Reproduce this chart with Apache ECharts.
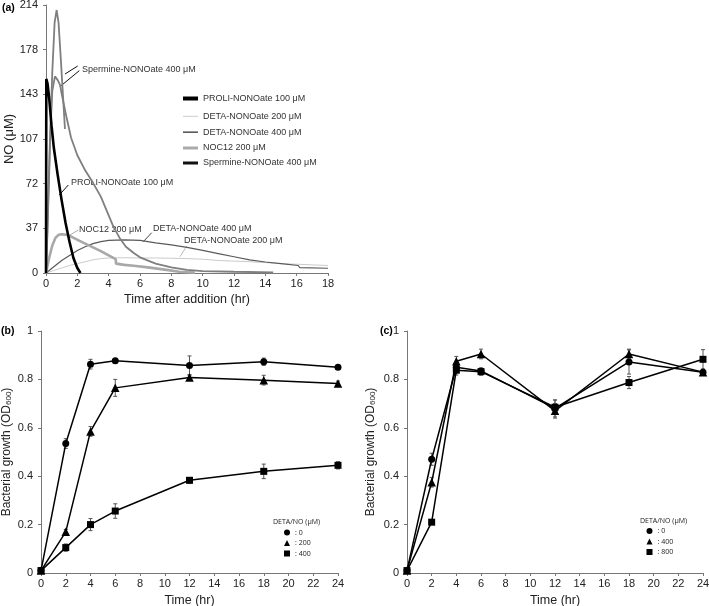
<!DOCTYPE html>
<html><head><meta charset="utf-8">
<script src="https://cdn.jsdelivr.net/npm/echarts@6/dist/echarts.min.js"></script>
<style>html,body{margin:0;padding:0;background:#fff}#c{width:709px;height:606px}</style>
</head><body><div id="c"></div>
<script>
// ---------- Panel (a): NO release curves [time hr, NO uM] ----------
const aYTickLabels = ['0','37','72','107','143','178','214'];
const prol = [[0,0],[0.02,155],[0.1,151],[0.2,140],[0.35,118],[0.5,100],[0.75,78],[1.0,58],[1.25,40],[1.5,25],[1.75,12],[2.0,4],[2.2,0]];
const spermTall = [[0,0],[0.1,35],[0.25,100],[0.4,160],[0.55,200],[0.68,210],[0.8,200],[0.95,170],[1.1,138],[1.21,115]];
const spermLong = [[0,0],[0.1,40],[0.25,105],[0.4,145],[0.57,157],[0.75,154],[0.9,150],[1.0,143],[1.3,125],[1.6,108],[2.0,94],[2.5,82],[3.0,72],[3.5,61],[4.0,46],[4.3,37],[4.7,28],[5.1,21],[5.6,16],[6.0,12.5],[7.0,7.5],[8.0,4.5],[9.0,2.5],[10,1.5],[12,1],[14.5,0.5]];
const noc12 = [[0,0],[0.2,12],[0.4,22],[0.6,28],[0.8,30.5],[1.0,31],[1.3,30.5],[1.7,28.5],[2.4,24],[3.0,20.5],[3.5,17.5],[4.0,14],[4.45,11],[4.47,7.5],[5.0,6.5],[5.6,5.8],[6.5,4.5],[7.7,2.5],[8.5,1],[9.5,0.3]];
const deta400 = [[0,0],[0.5,5],[1.0,10],[1.5,14],[2.0,18],[2.5,21],[3.0,23.5],[3.5,25],[4.0,26],[5.0,26.5],[6.0,26],[7.0,24],[8.0,22.5],[9.0,20.5],[10.0,18],[11.0,15.5],[12.0,13],[13.0,10.5],[14.0,8.8],[15.0,7.5],[16.1,6],[16.2,4.3],[18,3.8]];
const deta200 = [[0,0],[0.5,2],[1.0,4],[1.5,6],[2.0,7.5],[2.5,9],[3.0,10.5],[3.5,11.5],[4.0,12],[5.0,12.2],[6.0,12],[7.0,12],[8.0,11.8],[9.0,11.5],[10,11],[11,10],[12,9.5],[13,9],[14,8.3],[15,7.5],[16,7],[17,6.5],[18,6]];

// ---------- Panels (b) and (c): growth OD600 ----------
const times = [0,2,4,6,12,18,24];
const b0 = [0.01,0.535,0.863,0.877,0.857,0.873,0.85];
const b0Err = [0.005,0.02,0.02,0.008,0.04,0.015,0.008];
const b200 = [0.01,0.17,0.585,0.765,0.808,0.797,0.783];
const b200Err = [0.005,0.01,0.02,0.035,0.012,0.02,0.01];
const b400 = [0.01,0.105,0.2,0.256,0.383,0.42,0.445];
const b400Err = [0.005,0.015,0.025,0.03,0.012,0.03,0.015];
const c0 = [0.01,0.47,0.85,0.835,0.68,0.872,0.83];
const c0Err = [0.005,0.025,0.02,0.01,0.035,0.05,0.01];
const c400 = [0.01,0.375,0.875,0.905,0.67,0.905,0.83];
const c400Err = [0.005,0.02,0.02,0.02,0.03,0.02,0.01];
const c800 = [0.01,0.21,0.838,0.832,0.685,0.787,0.883];
const c800Err = [0.005,0.01,0.02,0.015,0.03,0.025,0.04];

const FONT = 'Liberation Sans, Arial, sans-serif';
const chart = echarts.init(document.getElementById('c'));

function lineA(name, data, color, width, z) {
  return {type:'line', name, xAxisIndex:0, yAxisIndex:0, data, symbol:'none', showSymbol:false,
    lineStyle:{color, width}, itemStyle:{color}, z, silent:true};
}
function growth(name, xi, vals, symbol, size) {
  return {type:'line', name, xAxisIndex:xi, yAxisIndex:xi, data: times.map((t,i)=>[t, vals[i]]),
    symbol, symbolSize:size, lineStyle:{color:'#000', width:1.5}, itemStyle:{color:'#000'}, z:3, silent:true};
}
function errBars(name, xi, vals, errs) {
  return {type:'custom', name, xAxisIndex:xi, yAxisIndex:xi, z:2, silent:true,
    data: times.map((t,i)=>[t, vals[i], errs[i]]), encode:{x:0, y:1},
    renderItem:(params, api) => {
      const x = api.value(0), v = api.value(1), e = api.value(2);
      const lo = api.coord([x, v - e]), hi = api.coord([x, v + e]);
      const w = 2, st = {stroke:'#555', lineWidth:1};
      return {type:'group', children:[
        {type:'line', shape:{x1:lo[0], y1:lo[1], x2:hi[0], y2:hi[1]}, style:st},
        {type:'line', shape:{x1:hi[0]-w, y1:hi[1], x2:hi[0]+w, y2:hi[1]}, style:st},
        {type:'line', shape:{x1:lo[0]-w, y1:lo[1], x2:lo[0]+w, y2:lo[1]}, style:st}
      ]};
    }};
}

const axisCommon = {
  axisLine:{show:true, onZero:false, lineStyle:{color:'#777', width:1}},
  axisTick:{show:true, length:3, lineStyle:{color:'#777'}},
  splitLine:{show:false}
};
const growthName = 'Bacterial growth (OD{s|600})';
const growthNameStyle = {fontSize:12, color:'#222', fontFamily:FONT,
  rich:{s:{fontSize:8, fontFamily:FONT, color:'#222', verticalAlign:'bottom'}}};

function legendA(name, top, h, color) {
  return {data:[{name, itemStyle:{color}}], left:183, top: top - h/2, padding:0, icon:'rect',
    itemWidth:15, itemHeight:h, selectedMode:false,
    textStyle:{fontSize:9, color:'#333', fontFamily:FONT}};
}
function legendBC(names, left, top) {
  return {orient:'vertical', left, top, padding:0, itemWidth:6, itemHeight:6, itemGap:3.5, selectedMode:false,
    data:[{name:names[0], icon:'circle'},{name:names[1], icon:'triangle'},{name:names[2], icon:'rect'}],
    formatter: n => ': ' + n.slice(1),
    textStyle:{fontSize:7, color:'#222', fontFamily:'Open Sans, sans-serif'}};
}

const annot = [
  {t:'Spermine-NONOate 400 μM', x:82, y:70},
  {t:'PROLI-NONOate 100 μM', x:71, y:183},
  {t:'NOC12 200 μM', x:79, y:230},
  {t:'DETA-NONOate 400 μM', x:153, y:229},
  {t:'DETA-NONOate 200 μM', x:184, y:241}
];
const leaders = [
  {p:[77.7,66,65,74], c:'#111'},
  {p:[79.3,70.7,60.7,86], c:'#111'},
  {p:[68.3,185,59.3,195], c:'#111'},
  {p:[78.3,230,70,235], c:'#aaa'},
  {p:[151.7,232.7,143.3,241.7], c:'#444'},
  {p:[186.7,246,180,256.7], c:'#bbb'}
];
const panelTitle = {fontSize:10.5, fontWeight:'bold', color:'#000', fontFamily:FONT};

const option = {
  animation:false,
  backgroundColor:'#fff',
  textStyle:{fontFamily:FONT},
  title:[
    {text:'(a)', left:2, top:3, padding:0, textStyle:panelTitle},
    {text:'(b)', left:1, top:326, padding:0, textStyle:panelTitle},
    {text:'(c)', left:380, top:326, padding:0, textStyle:panelTitle},
    {text:'DETA/NO (μM)', left:273, top:518, padding:0, textStyle:{fontSize:7, fontWeight:'normal', color:'#222', fontFamily:'Open Sans, sans-serif'}},
    {text:'DETA/NO (μM)', left:640, top:517.5, padding:0, textStyle:{fontSize:7, fontWeight:'normal', color:'#222', fontFamily:'Open Sans, sans-serif'}}
  ],
  grid:[
    {left:46, top:5, width:282, height:268, outerBoundsMode:'none'},
    {left:41, top:331, width:297, height:242, outerBoundsMode:'none'},
    {left:407, top:331, width:296, height:242, outerBoundsMode:'none'}
  ],
  xAxis:[
    Object.assign({gridIndex:0, type:'value', min:0, max:18, interval:2,
      axisLabel:{fontSize:11, color:'#222', margin:5, fontFamily:FONT},
      name:'Time after addition (hr)', nameLocation:'middle', nameGap:20,
      nameTextStyle:{fontSize:12.5, color:'#222', fontFamily:FONT}}, axisCommon),
    Object.assign({gridIndex:1, type:'value', min:0, max:24, interval:2,
      axisLabel:{fontSize:11, color:'#222', margin:5, fontFamily:FONT},
      name:'Time (hr)', nameLocation:'middle', nameGap:21,
      nameTextStyle:{fontSize:12.5, color:'#222', fontFamily:FONT}}, axisCommon),
    Object.assign({gridIndex:2, type:'value', min:0, max:24, interval:2,
      axisLabel:{fontSize:11, color:'#222', margin:5, fontFamily:FONT},
      name:'Time (hr)', nameLocation:'middle', nameGap:21,
      nameTextStyle:{fontSize:12.5, color:'#222', fontFamily:FONT}}, axisCommon)
  ],
  yAxis:[
    Object.assign({gridIndex:0, type:'value', min:0, max:214, interval:214/6,
      axisLabel:{fontSize:11, color:'#222', margin:8, fontFamily:FONT,
        formatter: v => aYTickLabels[Math.round(v / (214/6))]},
      name:'NO (μM)', nameLocation:'middle', nameGap:29, nameRotate:90,
      nameTextStyle:{fontSize:13, color:'#222', fontFamily:FONT}}, axisCommon),
    Object.assign({gridIndex:1, type:'value', min:0, max:1, interval:0.2,
      axisLabel:{fontSize:11, color:'#222', margin:8, fontFamily:FONT},
      name:growthName, nameLocation:'middle', nameGap:28, nameRotate:90,
      nameTextStyle:growthNameStyle}, axisCommon),
    Object.assign({gridIndex:2, type:'value', min:0, max:1, interval:0.2,
      axisLabel:{fontSize:11, color:'#222', margin:8, fontFamily:FONT},
      name:growthName, nameLocation:'middle', nameGap:30, nameRotate:90,
      nameTextStyle:growthNameStyle}, axisCommon)
  ],
  legend:[
    legendA('PROLI-NONOate 100 μM', 96, 4, '#000'),
    legendA('DETA-NONOate 200 μM', 112.3, 1, '#ccc'),
    legendA('DETA-NONOate 400 μM', 128.3, 1.3, '#333'),
    legendA('NOC12 200 μM', 145, 3, '#aaa'),
    legendA('Spermine-NONOate 400 μM', 160, 3, '#111'),
    legendBC(['b0','b200','b400'], 284, 529),
    legendBC(['c0','c400','c800'], 646.5, 527.5)
  ],
  series:[
    lineA('DETA-NONOate 200 μM', deta200, '#cacaca', 1, 2),
    lineA('DETA-NONOate 400 μM', deta400, '#5a5a5a', 1.2, 3),
    lineA('NOC12 200 μM', noc12, '#a8a8a8', 2.6, 4),
    lineA('Spermine-NONOate 400 μM', spermLong, '#7f7f7f', 1.8, 5),
    lineA('Spermine-NONOate 400 μM (rep)', spermTall, '#7f7f7f', 1.8, 5),
    lineA('PROLI-NONOate 100 μM', prol, '#000', 2.6, 6),
    errBars('eb0', 1, b0, b0Err), errBars('eb200', 1, b200, b200Err), errBars('eb400', 1, b400, b400Err),
    growth('b0', 1, b0, 'circle', 7), growth('b200', 1, b200, 'triangle', 8.5), growth('b400', 1, b400, 'rect', 7),
    errBars('ec0', 2, c0, c0Err), errBars('ec400', 2, c400, c400Err), errBars('ec800', 2, c800, c800Err),
    growth('c0', 2, c0, 'circle', 7), growth('c400', 2, c400, 'triangle', 8.5), growth('c800', 2, c800, 'rect', 7)
  ],
  graphic: annot.map(a => ({type:'text', x:a.x, y:a.y, silent:true,
      style:{text:a.t, font:'9px ' + FONT, fill:'#333', verticalAlign:'middle'}}))
    .concat(leaders.map(l => ({type:'line', silent:true,
      shape:{x1:l.p[0], y1:l.p[1], x2:l.p[2], y2:l.p[3]}, style:{stroke:l.c, lineWidth:1}})))
};
chart.setOption(option);
</script></body></html>
